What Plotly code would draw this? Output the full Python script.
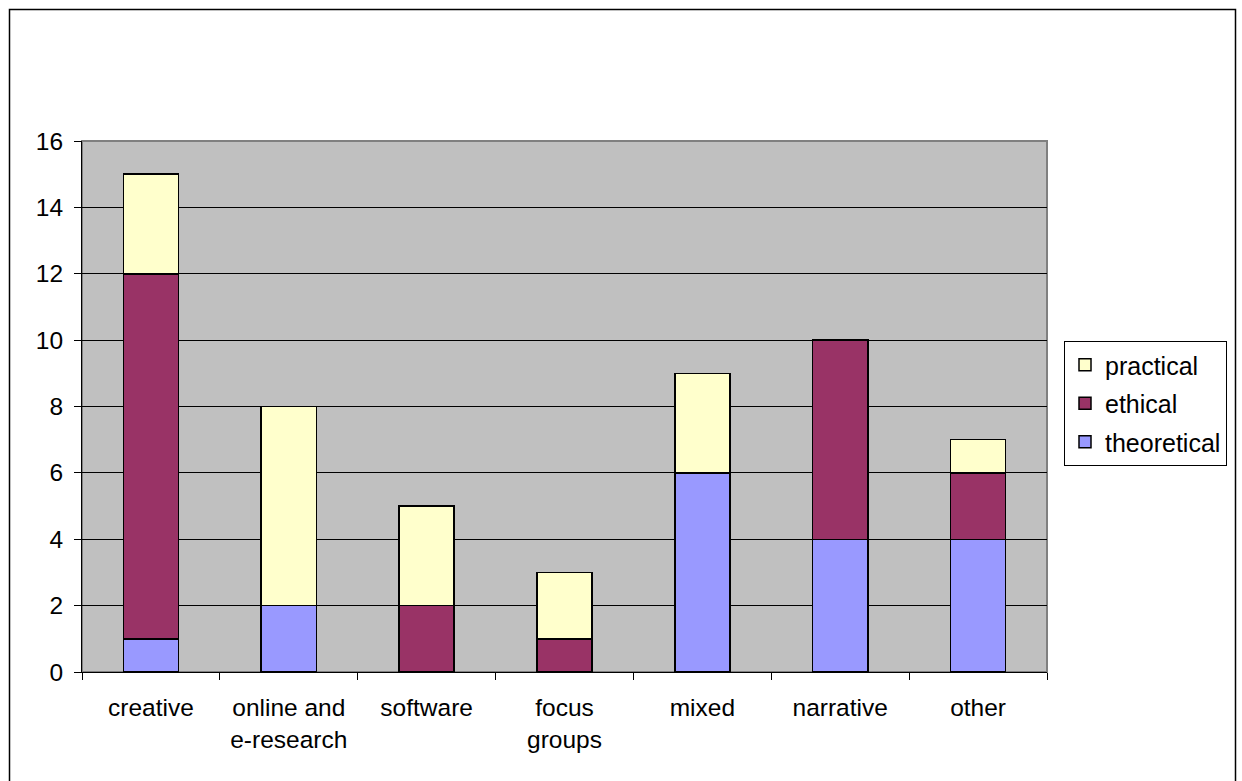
import plotly.graph_objects as go

categories = ["creative", "online and<br>e-research", "software", "focus<br>groups", "mixed", "narrative", "other"]
theoretical = [1, 2, 0, 0, 6, 4, 4]
ethical = [11, 0, 2, 1, 0, 6, 2]
practical = [3, 6, 3, 2, 3, 0, 1]

W, H = 1242, 781
L, R, T, B = 82, 1047, 141, 672

fig = go.Figure()
for name, vals, col, rank in [("theoretical", theoretical, "#9999FF", 3),
                              ("ethical", ethical, "#993366", 2),
                              ("practical", practical, "#FFFFCC", 1)]:
    fig.add_trace(go.Bar(name=name, x=categories, y=vals, marker_color=col,
                         legendgroup=name, legendrank=rank,
                         marker_line_color="black", marker_line_width=1.5))

pw, ph = R - L, B - T
def px(x): return (x - L) / pw
def py(y): return (B - y) / ph

fig.add_shape(type="rect", xref="paper", yref="paper",
              x0=px(9.5), x1=px(1235.5), y0=py(790), y1=py(9.5),
              line=dict(color="black", width=1.5), fillcolor="rgba(0,0,0,0)", layer="below")

fig.update_layout(
    width=W, height=H, barmode="stack", bargap=0.6,
    margin=dict(l=L, r=W - R, t=T, b=H - B),
    paper_bgcolor="white", plot_bgcolor="#C0C0C0",
    font=dict(family="Liberation Sans, Arial", size=24, color="black"),
    legend=dict(traceorder="grouped", tracegroupgap=3,
                x=px(1064), y=py(341), xanchor="left", yanchor="top",
                bordercolor="black", borderwidth=1, bgcolor="white",
                font=dict(size=25), itemwidth=30),
    xaxis=dict(tickson="boundaries", ticks="outside", ticklen=7, tickcolor="black",
               showline=True, linecolor="black", linewidth=1, showgrid=False,
               tickfont=dict(size=24.5), ticklabelstandoff=14),
    yaxis=dict(range=[0, 16], dtick=2, ticks="outside", ticklen=7, tickcolor="black",
               showline=True, linecolor="black", linewidth=1, gridcolor="black", gridwidth=1,
               zeroline=False, tickfont=dict(size=24.5), ticklabelstandoff=6),
)
fig.add_shape(type="rect", xref="paper", yref="paper", x0=0, x1=1, y0=0, y1=1,
              line=dict(color="#808080", width=2), fillcolor="rgba(0,0,0,0)", layer="below")
fig.write_html("out.html")
